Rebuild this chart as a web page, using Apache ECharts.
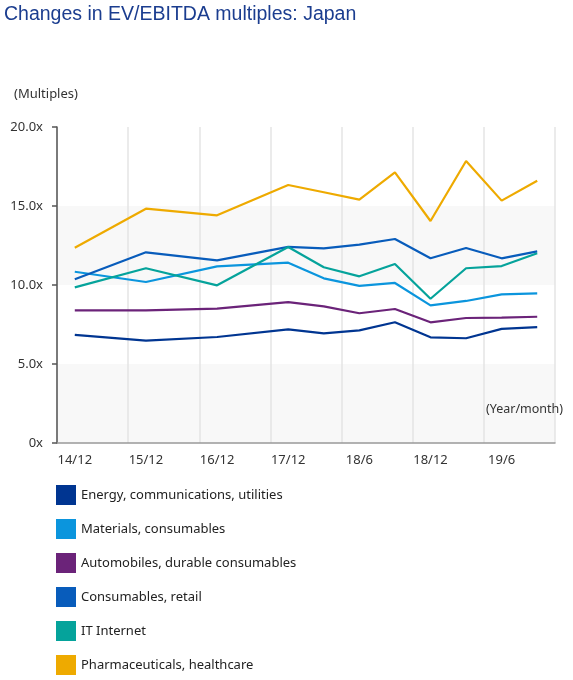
<!DOCTYPE html>
<html>
<head>
<meta charset="utf-8">
<script src="https://cdn.jsdelivr.net/npm/echarts@6/dist/echarts.min.js"></script>
<style>
  html, body { margin: 0; padding: 0; background: #fff; }
  #chart { width: 573px; height: 680px; }
</style>
</head>
<body>
<div id="chart"></div>
<script>
// periodos (os meios-anos antigos nao tem dado, ficam vazios)
const periodos = ['14/12', '15/6', '15/12', '16/6', '16/12', '17/6', '17/12',
                  '18/3', '18/6', '18/9', '18/12', '19/3', '19/6', '19/9'];

const nomes = [
    'Energy, communications, utilities',
    'Materials, consumables',
    'Automobiles, durable consumables',
    'Consumables, retail',
    'IT Internet',
    'Pharmaceuticals, healthcare'
];
const cores = ['#003591', '#0b95dd', '#6b2379', '#085cbb', '#05a39b', '#eeaa00'];

const energia     = [6.84, null, 6.48, null, 6.71, null, 7.19, 6.94, 7.13, 7.64, 6.69, 6.63, 7.22, 7.34];
const materiais   = [10.84, null, 10.19, null, 11.18, null, 11.41, 10.42, 9.94, 10.13, 8.71, 8.99, 9.41, 9.47];
const automoveis  = [8.40, null, 8.40, null, 8.50, null, 8.92, 8.65, 8.21, 8.48, 7.64, 7.91, 7.93, 7.99];
const varejo      = [10.36, null, 12.07, null, 11.56, null, 12.41, 12.32, 12.55, 12.91, 11.69, 12.34, 11.69, 12.13];
const internet    = [9.85, null, 11.06, null, 9.98, null, 12.41, 11.12, 10.55, 11.33, 9.13, 11.06, 11.20, 12.01];
const farmaceutico = [12.36, null, 14.83, null, 14.41, null, 16.33, 15.87, 15.40, 17.13, 14.05, 17.85, 15.34, 16.60];

const valores = [energia, materiais, automoveis, varejo, internet, farmaceutico];

const fonte = 'Noto Sans';

const grafico = echarts.init(document.getElementById('chart'));

const option = {
    animation: false,
    title: {
        text: 'Changes in EV/EBITDA multiples: Japan',
        left: 4,
        top: 5,
        padding: 0,
        textStyle: { fontFamily: 'Liberation Sans', fontSize: 19.5, fontWeight: 'normal', color: '#1b3d8f' }
    },
    graphic: [
        { type: 'text', left: 14, top: 88, z: 100, style: { text: '(Multiples)', font: '13px ' + fonte, fill: '#333' } },
        { type: 'text', right: 10, top: 403, z: 100, style: { text: '(Year/month)', font: '12.5px ' + fonte, fill: '#333' } }
    ],
    legend: {
        orient: 'vertical',
        left: 56,
        top: 485,
        padding: 0,
        itemWidth: 20,
        itemHeight: 20,
        itemGap: 14,
        icon: 'rect',
        textStyle: { fontFamily: fonte, fontSize: 13, color: '#222' },
        data: nomes
    },
    grid: { left: 57, right: 18, top: 127, bottom: 237 },
    xAxis: {
        type: 'category',
        data: periodos,
        boundaryGap: true,
        axisLine: { lineStyle: { color: '#999', width: 1.5 } },
        axisTick: { alignWithLabel: true, interval: 1, length: 5, lineStyle: { color: '#999', width: 1.5 } },
        axisLabel: { interval: 1, margin: 11, fontFamily: fonte, fontSize: 13, color: '#333' },
        splitLine: { show: true, interval: 1, lineStyle: { color: '#e4e4e4', width: 1.5 } }
    },
    yAxis: {
        type: 'value',
        min: 0,
        max: 20,
        interval: 5,
        axisLine: { show: true, lineStyle: { color: '#555', width: 1.5 } },
        axisTick: { show: true, length: 5, lineStyle: { color: '#555', width: 1.5 } },
        axisLabel: {
            margin: 14,
            fontFamily: fonte,
            fontSize: 13,
            color: '#333',
            formatter: v => v === 0 ? '0x' : v.toFixed(1) + 'x'
        },
        splitLine: { show: false },
        splitArea: { show: true, areaStyle: { color: ['#f8f8f8', '#ffffff'] } }
    },
    series: nomes.map((nome, i) => ({
        name: nome,
        type: 'line',
        data: valores[i],
        connectNulls: true,
        showSymbol: false,
        symbol: 'none',
        color: cores[i],
        lineStyle: { width: 2.2, color: cores[i] }
    }))
};

grafico.setOption(option);
</script>
</body>
</html>
